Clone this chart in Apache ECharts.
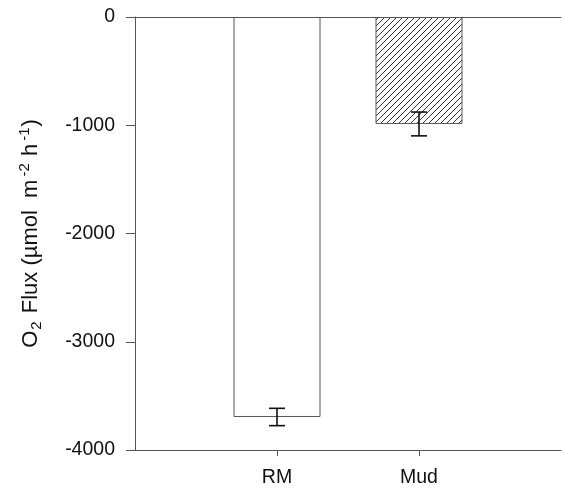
<!DOCTYPE html>
<html>
<head>
<meta charset="utf-8">
<script src="https://cdn.jsdelivr.net/npm/echarts@6/dist/echarts.min.js"></script>
<style>
  html, body { margin: 0; padding: 0; background: #fff; }
  #chart { width: 564px; height: 488px; }
</style>
</head>
<body>
<div id="chart"></div>
<script>
// categories (blank slots at both ends so the bars sit at 1/3 and 2/3 of the axis)
var categories = ['', 'RM', 'Mud', ''];
var fluxMean = [null, -3695, -988, null];
var fluxErr = [null, 80, 110, null];
var yTicks = [0, -1000, -2000, -3000, -4000];

document.addEventListener('DOMContentLoaded', function () {
    var myChart = echarts.init(document.getElementById('chart'), null, { renderer: 'canvas' });

    // hatch pattern for the Mud bar
    var hatch = document.createElement('canvas');
    hatch.width = 6;
    hatch.height = 6;
    var ctx = hatch.getContext('2d');
    ctx.fillStyle = '#fff';
    ctx.fillRect(0, 0, 6, 6);
    ctx.strokeStyle = '#333';
    ctx.lineWidth = 1;
    ctx.beginPath();
    ctx.moveTo(0, 6); ctx.lineTo(6, 0);
    ctx.moveTo(-1, 1); ctx.lineTo(1, -1);
    ctx.moveTo(5, 7); ctx.lineTo(7, 5);
    ctx.stroke();

    var barData = fluxMean.map(function (v, i) {
        if (v === null) return '-';
        return {
            value: v,
            itemStyle: {
                color: categories[i] === 'Mud' ? { image: hatch, repeat: 'repeat' } : '#fff'
            }
        };
    });

    var errData = [];
    fluxMean.forEach(function (v, i) {
        if (v !== null) errData.push([i, v - fluxErr[i], v + fluxErr[i]]);
    });

    var font = '"Liberation Sans", Arial, sans-serif';

    var option = {
        backgroundColor: '#fff',
        animation: false,
        grid: { left: 135, right: 0, top: 17, bottom: 38 },
        xAxis: [{
            type: 'category',
            data: categories,
            boundaryGap: false,
            position: 'bottom',
            axisLine: { onZero: false, lineStyle: { color: '#555', width: 1 } },
            axisTick: {
                length: 6,
                interval: function (idx) { return idx === 1 || idx === 2; },
                lineStyle: { color: '#555' }
            },
            axisLabel: {
                interval: 0,
                margin: 18,
                color: '#111',
                fontSize: 19.5,
                fontFamily: font
            },
            splitLine: { show: false }
        }, {
            type: 'category',
            data: categories,
            boundaryGap: false,
            position: 'top',
            axisLine: { onZero: false, lineStyle: { color: '#555', width: 1 } },
            axisTick: { show: false },
            axisLabel: { show: false }
        }],
        yAxis: {
            type: 'value',
            min: -4000,
            max: 0,
            interval: 1000,
            name: '{n|O}{sub|2}{n| Flux (µmol  m}{sup|-2}{n| h}{sup|-1}{n|)}',
            nameLocation: 'middle',
            nameGap: 90,
            nameTextStyle: {
                fontFamily: font,
                fontSize: 22,
                rich: {
                    n: { fontSize: 22, fontFamily: font, color: '#111', lineHeight: 28 },
                    sub: { fontSize: 15, fontFamily: font, color: '#111', lineHeight: 28, verticalAlign: 'bottom', padding: [0, 2, 1, 1] },
                    sup: { fontSize: 15, fontFamily: font, color: '#111', lineHeight: 28, verticalAlign: 'top', padding: [0, 1, 0, 3] }
                }
            },
            axisLine: { show: true, lineStyle: { color: '#555', width: 1 } },
            axisTick: { show: true, length: 9, lineStyle: { color: '#555' } },
            axisLabel: {
                margin: 20,
                color: '#111',
                fontSize: 19.5,
                fontFamily: font,
                formatter: function (v) { return yTicks.indexOf(v) >= 0 ? String(v) : ''; }
            },
            splitLine: { show: false }
        },
        series: [{
            type: 'bar',
            data: barData,
            barWidth: 87,
            itemStyle: { borderColor: '#555', borderWidth: 1 }
        }, {
            type: 'custom',
            data: errData,
            z: 5,
            renderItem: function (params, api) {
                var x = api.value(0);
                var lo = api.coord([x, api.value(1)]);
                var hi = api.coord([x, api.value(2)]);
                var half = 8;
                var style = { stroke: '#111', lineWidth: 1.6 };
                return {
                    type: 'group',
                    children: [
                        { type: 'line', shape: { x1: lo[0], y1: lo[1], x2: hi[0], y2: hi[1] }, style: style },
                        { type: 'line', shape: { x1: lo[0] - half, y1: lo[1], x2: lo[0] + half, y2: lo[1] }, style: style },
                        { type: 'line', shape: { x1: hi[0] - half, y1: hi[1], x2: hi[0] + half, y2: hi[1] }, style: style }
                    ]
                };
            }
        }]
    };

    myChart.setOption(option);
});
</script>
</body>
</html>
